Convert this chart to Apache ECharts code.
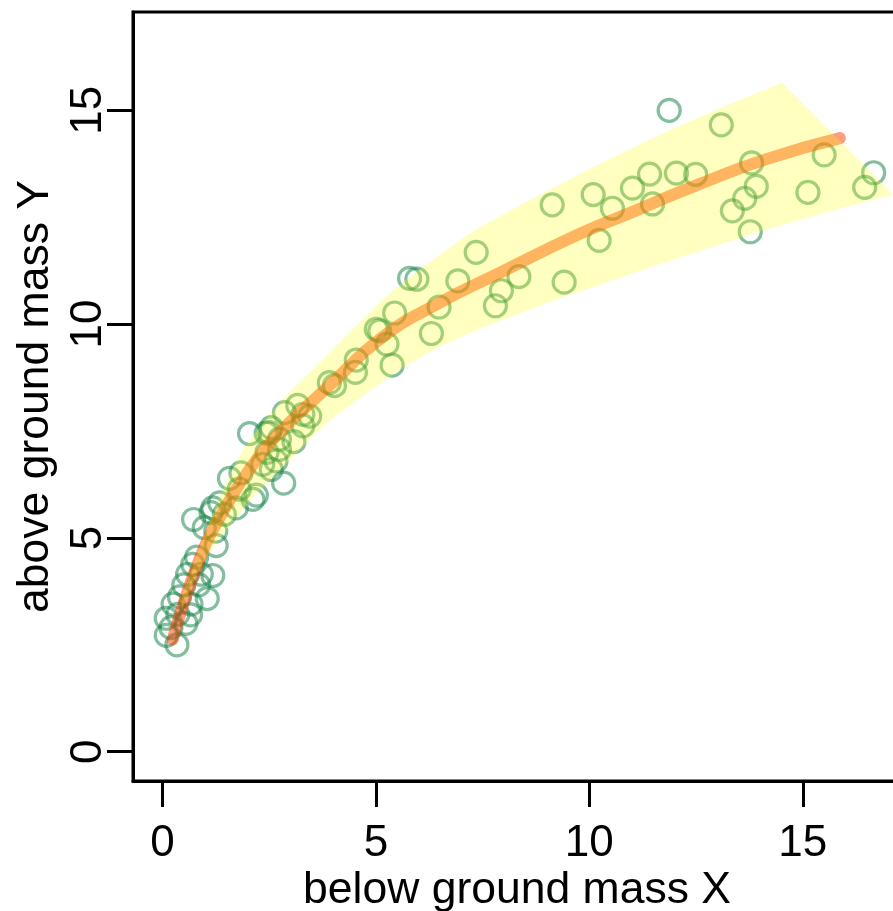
<!DOCTYPE html>
<html><head><meta charset="utf-8">
<script src="https://cdn.jsdelivr.net/npm/echarts@6/dist/echarts.min.js"></script>
<style>html,body{margin:0;padding:0;background:#fff}#c{width:893px;height:911px}</style>
</head><body><div id="c"></div>
<script>
// observed points (below ground mass X, above ground mass Y)
const pointX = [11.87,13.09,10.09,9.13,11.01,11.41,12.04,12.49,10.54,11.48,10.23,9.41,8.35,13.80,13.91,13.64,13.35,13.77,15.12,15.50,16.45,16.66,
  7.94,7.80,5.79,5.96,7.35,6.92,6.48,6.30,5.44,5.01,5.09,5.26,5.38,4.54,4.52,3.91,4.03,
  3.17,3.29,2.86,3.45,3.29,3.08,2.55,2.04,2.43,2.74,2.51,2.84,2.35,2.55,2.66,2.20,1.84,1.57,2.12,1.73,1.34,1.14,0.73,0.98,1.45,1.25,1.26,
  0.71,0.59,0.91,1.18,0.40,1.05,0.67,0.09,0.36,0.66,0.09,0.34,1.80,2.74,2.45,0.25,0.50,0.85,0.55,0.20,0.80,1.18];
const pointY = [15.00,14.66,13.03,12.79,13.18,13.51,13.53,13.50,12.71,12.81,11.96,10.98,11.11,13.77,13.22,12.94,12.65,12.16,13.08,13.96,13.20,13.54,
  10.78,10.43,11.07,11.05,11.68,11.01,10.40,9.78,10.26,9.88,9.84,9.53,9.04,9.16,8.87,8.63,8.56,
  8.10,7.89,7.93,7.85,7.62,7.25,7.58,7.44,7.45,7.31,7.46,6.28,6.72,6.60,6.80,6.00,6.52,6.39,5.90,5.70,5.82,5.59,5.43,5.24,5.55,5.16,4.82,
  4.38,4.15,4.15,4.12,3.62,3.58,3.45,3.12,3.21,3.20,2.72,2.50,6.14,7.07,7.00,3.45,3.90,3.90,3.00,2.90,4.55,5.70];
// fitted curve
const fitX = [0.24,0.87,1.49,2.04,2.66,3.91,5.16,6.49,7.90,9.77,11.00,12.59,14.15,15.87];
const fitY = [2.62,4.50,5.74,6.60,7.38,8.56,9.70,10.50,11.20,12.11,12.62,13.28,13.86,14.35];
// band edges
const bandUpperX = [0.45,1.00,1.72,2.67,3.92,5.16,6.50,7.90,11.42,14.51];
const bandUpperY = [3.60,5.10,6.76,8.07,9.33,10.57,11.62,12.52,14.32,15.65];
const bandLowerX = [0.45,1.00,2.00,3.14,4.15,6.26,8.61,9.78,11.81,14.46,17.11];
const bandLowerY = [3.30,4.50,5.80,6.98,7.92,9.35,10.34,10.76,11.46,12.30,13.03];
const xTicks = [0,5,10,15];
const yTicks = [0,5,10,15];

const FONT = 'Liberation Sans, Arial, Helvetica, sans-serif';
const chart = echarts.init(document.getElementById('c'), null, {renderer:'canvas'});
const points = pointX.map((x,i)=>[x,pointY[i]]);
const fit = fitX.map((x,i)=>[x,fitY[i]]);

function catmull(pts){
  let d='';
  for(let i=0;i<pts.length-1;i++){
    const p0=pts[Math.max(i-1,0)], p1=pts[i], p2=pts[i+1], p3=pts[Math.min(i+2,pts.length-1)];
    const c1=[p1[0]+(p2[0]-p0[0])/6, p1[1]+(p2[1]-p0[1])/6];
    const c2=[p2[0]-(p3[0]-p1[0])/6, p2[1]-(p3[1]-p1[1])/6];
    d+=' C'+c1[0]+','+c1[1]+' '+c2[0]+','+c2[1]+' '+p2[0]+','+p2[1];
  }
  return d;
}
chart.setOption({
  animation:false,
  grid:{left:133,top:12,right:-8,bottom:130,show:true,borderColor:'#000',borderWidth:3,
        backgroundColor:'transparent',containLabel:false,outerBoundsMode:'none'},
  xAxis:{type:'value',min:-0.689,max:17.30,
    name:'below ground mass X',nameLocation:'middle',nameGap:87,nameMoveOverlap:false,
    nameTextStyle:{fontFamily:FONT,fontSize:44.5,color:'#000'},
    axisLine:{show:true,onZero:false,lineStyle:{color:'#000',width:3}},splitLine:{show:false},
    axisTick:{show:true,inside:false,length:26,lineStyle:{color:'#000',width:3},customValues:xTicks},
    axisLabel:{fontFamily:FONT,fontSize:44,color:'#000',margin:41,hideOverlap:false,customValues:xTicks}},
  yAxis:{type:'value',min:-0.686,max:17.30,
    name:'above ground mass Y',nameLocation:'middle',nameGap:75,nameRotate:90,nameMoveOverlap:false,
    nameTextStyle:{fontFamily:FONT,fontSize:44.5,color:'#000'},
    axisLine:{show:true,onZero:false,lineStyle:{color:'#000',width:3}},splitLine:{show:false},
    axisTick:{show:true,inside:false,length:26,lineStyle:{color:'#000',width:3},customValues:yTicks},
    axisLabel:{fontFamily:FONT,fontSize:44,color:'#000',margin:22,rotate:90,hideOverlap:false,customValues:yTicks}},
  series:[
    {type:'scatter',z:1,silent:true,data:points,symbol:'circle',symbolSize:22,
     itemStyle:{color:'rgba(0,0,0,0)',borderColor:'rgba(20,130,70,0.65)',borderWidth:3.2}},
    {type:'line',z:2,silent:true,data:fit,smooth:true,showSymbol:false,
     lineStyle:{color:'rgba(255,60,0,0.5)',width:12,cap:'round'}},
    {type:'custom',z:3,silent:true,data:[[0,0]],
     renderItem:function(params,api){
       const up=bandUpperX.map((x,i)=>api.coord([x,bandUpperY[i]]));
       const lo=bandLowerX.map((x,i)=>api.coord([x,bandLowerY[i]])).reverse();
       let d='M'+up[0][0]+','+up[0][1]+catmull(up);
       d+=' L'+lo[0][0]+','+lo[0][1]+catmull(lo)+' Z';
       return {type:'path',shape:{pathData:d},style:{fill:'rgba(255,255,0,0.25)',stroke:null}};
     }}
  ]
});
</script></body></html>
